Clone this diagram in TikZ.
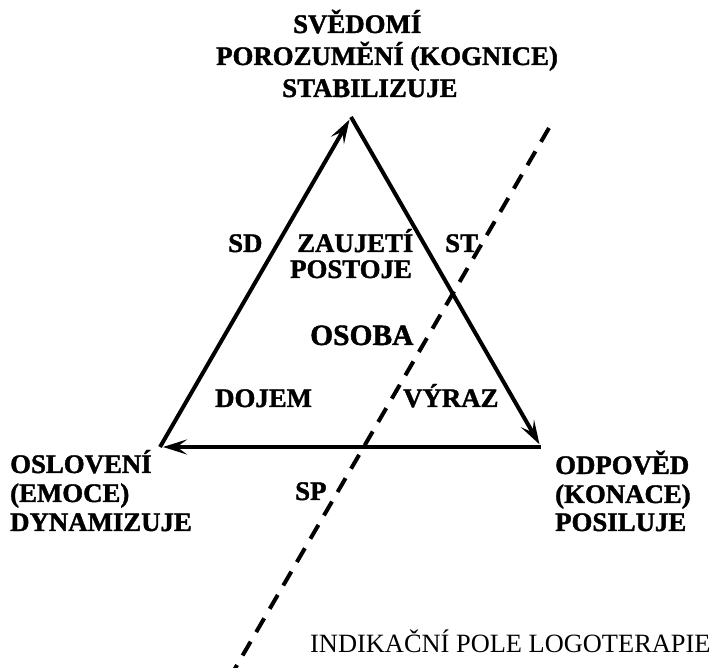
\documentclass[tikz,border=0pt]{standalone}
\usepackage{fontspec}
\setmainfont{Liberation Serif}
\newfontfamily\heavyserif[FakeBold=1.5]{Liberation Serif Bold}
\usetikzlibrary{arrows.meta}
\begin{document}
\begin{tikzpicture}[x=1pt,y=-1pt,
  side/.style={line width=4pt},
  tipped/.style={side,shorten >=3pt,-{Stealth[length=24pt,width=15pt,inset=10pt]}},
  divider/.style={line width=4pt,dash pattern=on 16pt off 11pt},
  lbl/.style={inner sep=0pt,anchor=base west,font=\heavyserif\fontsize{26.8}{30}\selectfont},
  big/.style={inner sep=0pt,anchor=base west,font=\heavyserif\fontsize{29.5}{33}\selectfont},
  plain/.style={inner sep=0pt,anchor=base west,font=\fontsize{26.4}{30}\selectfont}]
\useasboundingbox (0,0) rectangle (716,668);
% vertices
\coordinate (T) at (351,117);
\coordinate (L) at (160,447);
\coordinate (R) at (541,447);
\draw[tipped] (L) -- (T);
\draw[tipped] (T) -- (R);
\draw[tipped] (R) -- (L);
% divider
\coordinate (D1) at (549,128);
\coordinate (D2) at (233,672);
\draw[divider] (D1) -- (D2);
% top label
\node[lbl] (t1) at (293,33) {SVĚDOMÍ};
\node[lbl] (t2) at (216,65) {POROZUMĚNÍ (KOGNICE)};
\node[lbl] (t3) at (282,97) {STABILIZUJE};
% left label
\node[lbl] (l1) at (10,473) {OSLOVENÍ};
\node[lbl] (l2) at (10,502) {(EMOCE)};
\node[lbl] (l3) at (10,531) {DYNAMIZUJE};
% right label
\node[lbl] (r1) at (555,474) {ODPOVĚD};
\node[lbl] (r2) at (555,503) {(KONACE)};
\node[lbl] (r3) at (555,531) {POSILUJE};
% inner labels
\node[lbl] (sd) at (228,252) {SD};
\node[lbl] (za) at (297,252) {ZAUJETÍ};
\node[lbl] (po) at (290,278) {POSTOJE};
\node[lbl] (st) at (445,252) {ST};
\node[big] (os) at (310,345) {OSOBA};
\node[lbl] (dj) at (215,407) {DOJEM};
\node[lbl] (vy) at (403,407) {VÝRAZ};
\node[lbl] (sp) at (295,500) {SP};
\node[plain] (ind) at (310,652) {INDIKAČNÍ POLE LOGOTERAPIE};
\end{tikzpicture}
\end{document}
